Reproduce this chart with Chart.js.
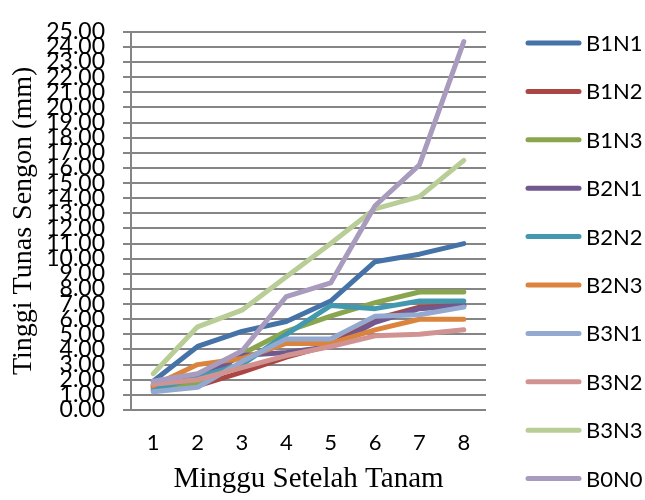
<!DOCTYPE html>
<html>
<head>
<meta charset="utf-8">
<script src="https://cdn.jsdelivr.net/npm/chart.js@4/dist/chart.umd.min.js"></script>
<style>
  html, body { margin: 0; padding: 0; background: #fff; }
  #wrap { width: 645px; height: 500px; }
</style>
</head>
<body>
<div id="wrap"><canvas id="c" width="645" height="500"></canvas></div>
<script>
// Weeks after planting
const weeks = ['1', '2', '3', '4', '5', '6', '7', '8'];

// Shoot height (mm) per treatment
const B1N1 = [1.9, 4.2, 5.2, 5.85, 7.2, 9.8, 10.3, 11.0];
const B1N2 = [1.5, 1.6, 2.5, 3.5, 4.3, 6.0, 6.8, 6.9];
const B1N3 = [1.4, 1.8, 3.7, 5.2, 6.2, 7.1, 7.8, 7.8];
const B2N1 = [1.6, 2.1, 3.6, 3.8, 4.2, 5.8, 6.7, 6.9];
const B2N2 = [1.3, 2.2, 3.0, 5.0, 6.9, 6.7, 7.2, 7.2];
const B2N3 = [1.6, 3.0, 3.4, 4.4, 4.4, 5.3, 6.0, 6.0];
const B3N1 = [1.2, 1.5, 3.2, 4.7, 4.7, 6.2, 6.3, 6.8];
const B3N2 = [1.7, 2.0, 2.8, 3.6, 4.2, 4.9, 5.0, 5.3];
const B3N3 = [2.4, 5.5, 6.6, 8.8, 11.0, 13.3, 14.1, 16.5];
const B0N0 = [1.9, 2.4, 3.9, 7.5, 8.4, 13.5, 16.2, 24.35];

const seriesNames = ['B1N1', 'B1N2', 'B1N3', 'B2N1', 'B2N2', 'B2N3', 'B3N1', 'B3N2', 'B3N3', 'B0N0'];
const seriesValues = [B1N1, B1N2, B1N3, B2N1, B2N2, B2N3, B3N1, B3N2, B3N3, B0N0];
const seriesColors = ['#4572A7', '#AA4643', '#89A54E', '#71588F', '#4198AF',
                      '#DB843D', '#93A9CF', '#D19392', '#B9CD96', '#A99BBD'];

const yMin = 0, yMax = 25, yStep = 1;

const datasets = seriesNames.map((name, i) => ({
  label: name,
  data: seriesValues[i],
  borderColor: seriesColors[i],
  backgroundColor: seriesColors[i],
  borderWidth: 5,
  borderCapStyle: 'round',
  borderJoinStyle: 'round',
  pointRadius: 0,
  pointHoverRadius: 0,
  tension: 0,
  fill: false,
  order: seriesNames.length - i   // later series painted on top
}));

// Legend on the right: a short thick line followed by the series name
const sideLegend = {
  id: 'sideLegend',
  afterDraw(chart) {
    const ctx = chart.ctx;
    ctx.save();
    ctx.font = '22px Lato, "Open Sans", sans-serif';
    ctx.textBaseline = 'middle';
    ctx.textAlign = 'left';
    chart.data.datasets.forEach((ds, i) => {
      const y = 43 + i * 48.4;
      ctx.strokeStyle = ds.borderColor;
      ctx.lineWidth = 5;
      ctx.lineCap = 'round';
      ctx.beginPath();
      ctx.moveTo(528, y);
      ctx.lineTo(579, y);
      ctx.stroke();
      ctx.fillStyle = '#000';
      ctx.fillText(ds.label, 586, y + 1);
    });
    ctx.restore();
  }
};

new Chart(document.getElementById('c'), {
  type: 'line',
  data: { labels: weeks, datasets },
  options: {
    responsive: false,
    animation: false,
    events: [],
    layout: { padding: { left: 0, right: 159, top: 19, bottom: 3 } },
    plugins: {
      legend: { display: false },
      tooltip: { enabled: false }
    },
    scales: {
      x: {
        offset: true,
        grid: { display: false, drawTicks: false },
        border: { display: false },
        ticks: {
          color: '#000',
          padding: 20,
          font: { family: 'Lato, "Open Sans", sans-serif', size: 22 }
        },
        title: {
          display: true,
          text: 'Minggu Setelah Tanam',
          color: '#000',
          padding: { top: 0, bottom: 0 },
          font: { family: '"Liberation Serif", serif', size: 29 }
        },
        afterFit(scale) { scale.height = 87; }
      },
      y: {
        min: yMin,
        max: yMax,
        grid: {
          color: '#858585',
          lineWidth: 2,
          drawTicks: true,
          tickLength: 8,
          tickColor: '#858585'
        },
        border: { display: true, color: '#858585', width: 2 },
        ticks: {
          stepSize: yStep,
          autoSkip: false,
          color: '#000',
          padding: 18,
          font: { family: 'Lato, "Open Sans", sans-serif', size: 23 },
          callback: (v) => Number(v).toFixed(2)
        },
        title: {
          display: true,
          text: 'Tinggi Tunas Sengon (mm)',
          color: '#000',
          padding: { top: 7, bottom: 0 },
          font: { family: '"Liberation Serif", serif', size: 28 }
        },
        afterFit(scale) { scale.width = 131; }
      }
    }
  },
  plugins: [sideLegend]
});
</script>
</body>
</html>
